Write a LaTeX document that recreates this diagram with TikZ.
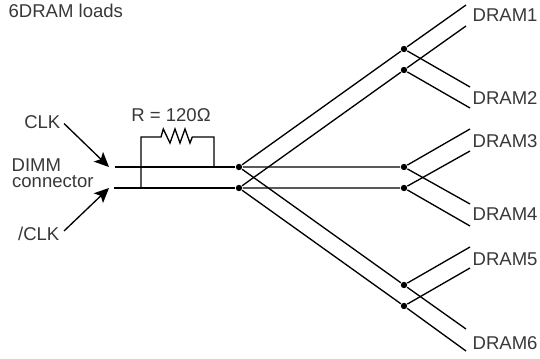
\documentclass[tikz,border=0pt]{standalone}
\usepackage{fontspec}
\setmainfont{Liberation Sans}
\usetikzlibrary{arrows.meta}

\begin{document}
\begin{tikzpicture}[x=0.75pt,y=-0.75pt,
            line width=1pt,
            dot/.style={shape=circle, inner sep=0pt, minimum size=4.8pt, draw=none, fill=black},
            lbl/.style={text=black!78, font=\fontsize{13.9}{15}\selectfont, inner sep=0pt},
            feed/.style={-{Stealth[length=11pt,width=10pt,inset=2.5pt]}}]
        \useasboundingbox (0,0) rectangle (540,358);

        \node[lbl,anchor=west] (title) at (8,10.5) {6DRAM loads};
        \node[lbl,anchor=east] (clk) at (61,122.5) {CLK};
        \node[lbl,anchor=west] (dimm) at (11,165) {DIMM};
        \node[lbl,anchor=west] (conn) at (11.5,182) {connector};
        \node[lbl,anchor=east] (nclk) at (60,234) {/CLK};
        \node[lbl] (rval) at (171,115) {R = 120Ω};

        \node[lbl,anchor=west] (dram1) at (472,15) {DRAM1};
        \node[lbl,anchor=west] (dram2) at (472,98) {DRAM2};
        \node[lbl,anchor=west] (dram3) at (472,141) {DRAM3};
        \node[lbl,anchor=west] (dram4) at (472,214) {DRAM4};
        \node[lbl,anchor=west] (dram5) at (472,259) {DRAM5};
        \node[lbl,anchor=west] (dram6) at (472,343) {DRAM6};

        \node[dot] (t0) at (239,167) {};
        \node[dot] (b0) at (239,188) {};
        \node[dot] (t1) at (404,49) {};
        \node[dot] (b1) at (404,70) {};
        \node[dot] (t2) at (404,167) {};
        \node[dot] (b2) at (404,188) {};
        \node[dot] (t3) at (404,285) {};
        \node[dot] (b3) at (404,306) {};

        \coordinate (ti) at (115,167);
        \coordinate (bi) at (114,188);
        \coordinate (rb) at (141,188);
        \coordinate (rt) at (214,167);

        % clock inputs
        \draw[feed] (clk.east)+(3,1) -- (109,167);
        \draw[feed] (nclk.east)+(4,-3) -- (109,188);

        % bus and termination
        \draw (ti) -- (t0);
        \draw (bi) -- (b0);
        \draw (rb) -- (141,137) -- (161,137) -- (163.3,129) -- (170,143) -- (175,129) -- (180,143)
            -- (185,129) -- (190,143) -- (192.3,137) -- (214,137) -- (rt);

        % branches
        \draw (t0) -- (t1) -- (466,5);
        \draw (b0) -- (b1) -- (466,26);
        \draw (t1) -- (470,87);
        \draw (b1) -- (470,108);

        \draw (t0) -- (t2) -- (470,129);
        \draw (b0) -- (b2) -- (470,151);
        \draw (t2) -- (470,204);
        \draw (b2) -- (470,226);

        \draw (t0) -- (t3) -- (466,329);
        \draw (b0) -- (b3) -- (466,351);
        \draw (t3) -- (470,247);
        \draw (b3) -- (470,268);
    \end{tikzpicture}
\end{document}
